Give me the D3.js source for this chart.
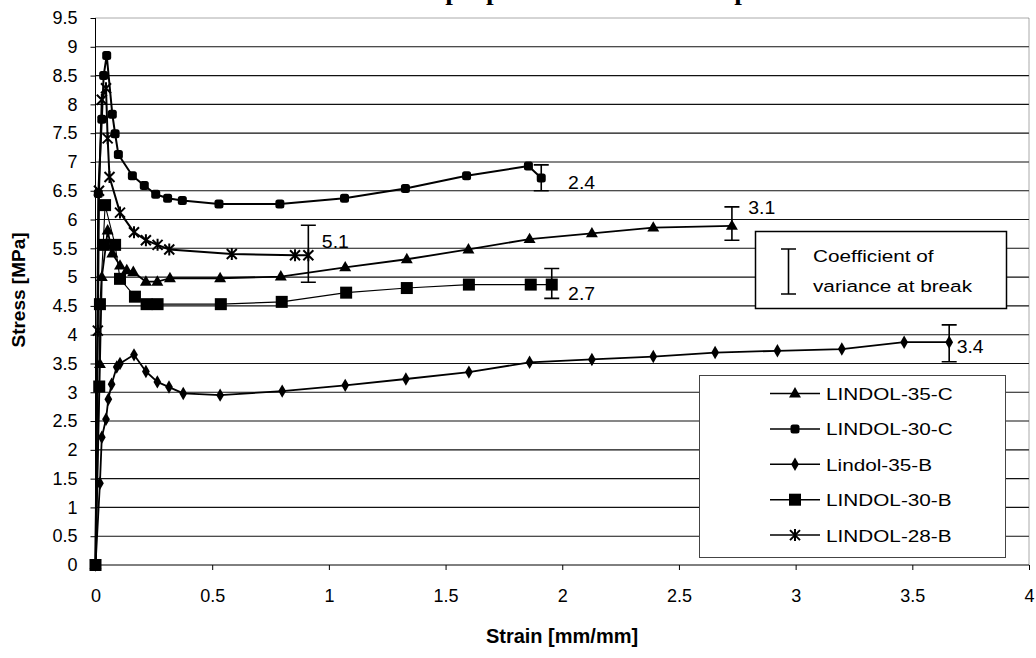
<!DOCTYPE html>
<html>
<head>
<meta charset="utf-8">
<script src="https://cdn.jsdelivr.net/npm/d3@7"></script>
<style>
  body { margin: 0; background: #fff; }
  svg { display: block; }
</style>
</head>
<body>
<svg id="chart" width="1036" height="658"></svg>
<script>
// values, [strain, stress]
var seriesNames = ['LINDOL-35-C', 'LINDOL-30-C', 'Lindol-35-B', 'LINDOL-30-B', 'LINDOL-28-B']

var lindol35C = [[0, 0], [0.019, 3.49], [0.027, 5.0], [0.045, 5.56], [0.052, 5.81], [0.072, 5.41],
  [0.105, 5.2], [0.134, 5.12], [0.162, 5.09], [0.216, 4.92], [0.265, 4.92], [0.319, 4.98],
  [0.534, 4.98], [0.794, 5.01], [1.07, 5.17], [1.334, 5.31], [1.598, 5.48], [1.86, 5.66],
  [2.127, 5.76], [2.39, 5.86], [2.727, 5.89]]

var lindol30C = [[0, 0], [0.012, 6.45], [0.027, 7.74], [0.035, 8.5], [0.048, 8.85], [0.072, 7.83],
  [0.084, 7.49], [0.098, 7.13], [0.158, 6.76], [0.209, 6.59], [0.258, 6.44], [0.309, 6.37],
  [0.372, 6.33], [0.529, 6.27], [0.79, 6.27], [1.067, 6.37], [1.328, 6.54], [1.59, 6.76],
  [1.855, 6.93], [1.91, 6.72]]

var lindol35B = [[0, 0], [0.019, 1.42], [0.027, 2.22], [0.045, 2.53], [0.055, 2.88], [0.069, 3.14],
  [0.091, 3.44], [0.105, 3.5], [0.165, 3.65], [0.216, 3.36], [0.265, 3.18], [0.315, 3.09],
  [0.376, 2.98], [0.534, 2.95], [0.8, 3.02], [1.07, 3.12], [1.33, 3.23], [1.6, 3.35],
  [1.86, 3.52], [2.127, 3.57], [2.39, 3.62], [2.655, 3.69], [2.922, 3.72], [3.198, 3.75],
  [3.465, 3.87], [3.658, 3.87]]

var lindol30B = [[0, 0], [0.016, 3.1], [0.019, 4.53], [0.033, 5.56], [0.041, 6.25], [0.084, 5.56],
  [0.105, 4.97], [0.169, 4.66], [0.219, 4.53], [0.266, 4.53], [0.537, 4.53], [0.798, 4.57],
  [1.074, 4.73], [1.334, 4.81], [1.6, 4.87], [1.865, 4.87], [1.955, 4.87]]

var lindol28B = [[0, 0], [0.01, 4.07], [0.015, 6.5], [0.027, 8.08], [0.045, 8.28], [0.052, 7.41],
  [0.06, 6.74], [0.105, 6.12], [0.165, 5.78], [0.216, 5.64], [0.266, 5.56], [0.316, 5.48],
  [0.584, 5.4], [0.855, 5.38], [0.912, 5.38]]

// coefficient of variance at break: strain, low, high, label, label strain, label stress
var breakX = [1.91, 0.912, 1.955, 2.727, 3.658]
var breakLow = [6.5, 4.91, 4.63, 5.64, 3.53]
var breakHigh = [6.95, 5.9, 5.15, 6.22, 4.17]
var breakText = ['2.4', '5.1', '2.7', '3.1', '3.4']
var breakTextX = [2.025, 0.97, 2.025, 2.797, 3.69]
var breakTextY = [6.66, 5.63, 4.72, 6.22, 3.8]

var xTicks = [0, 0.5, 1, 1.5, 2, 2.5, 3, 3.5, 4]
var yTicks = [0, 0.5, 1, 1.5, 2, 2.5, 3, 3.5, 4, 4.5, 5, 5.5, 6, 6.5, 7, 7.5, 8, 8.5, 9, 9.5]

var svg = d3.select('#chart')
var x = d3.scaleLinear().domain([0, 4]).range([95.5, 1029])
var y = d3.scaleLinear().domain([0, 9.5]).range([565, 18])
var sans = 'Arial, "Liberation Sans", sans-serif'

// text that is a bit wider than the font, like the scan
function stretchText(g, px, py, txt, size, sx, anchor, weight) {
  return g.append('text')
    .attr('transform', 'translate(' + px + ',' + py + ') scale(' + sx + ',1)')
    .attr('text-anchor', anchor || 'start')
    .style('font-family', sans)
    .style('font-size', size + 'px')
    .style('font-weight', weight || 'normal')
    .text(txt)
}

// title, mostly cut off at the top edge of the scan
svg.append('text')
  .attr('transform', 'translate(357,0) scale(1.25,1)')
  .style('font-family', '"Liberation Serif", "Times New Roman", serif')
  .style('font-size', '22px')
  .style('font-weight', 'bold')
  .text('Tensile properties of Lindol samples')

// gridlines
svg.append('g').selectAll('line')
  .data(yTicks.filter(function(d) { return d > 0 && d < 9.5 }))
  .enter().append('line')
  .attr('x1', x(0)).attr('x2', x(4))
  .attr('y1', function(d) { return y(d) }).attr('y2', function(d) { return y(d) })
  .attr('stroke', '#111').attr('stroke-width', 1.1)

// dotted frame top & right
svg.append('path')
  .attr('d', 'M' + x(0) + ',' + y(9.5) + 'H' + x(4) + 'V' + y(0))
  .attr('fill', 'none').attr('stroke', '#555').attr('stroke-dasharray', '1,1')

// axes
var xAxis = d3.axisBottom(x).tickValues(xTicks).tickSize(5).tickPadding(19)
  .tickFormat(function(d) { return String(d) })
var yAxis = d3.axisLeft(y).tickValues(yTicks).tickSize(5).tickPadding(13)
  .tickFormat(function(d) { return String(d) })

var gx = svg.append('g').attr('transform', 'translate(0,' + y(0) + ')').call(xAxis)
var gy = svg.append('g').attr('transform', 'translate(' + x(0) + ',0)').call(yAxis)
gx.select('.domain').attr('d', 'M' + x(0) + ',0H' + x(4)).attr('stroke', '#000')
gy.select('.domain').attr('d', 'M0,' + y(0) + 'V' + y(9.5)).attr('stroke', '#000')
;[gx, gy].forEach(function(g) {
  g.selectAll('text').style('font-family', sans).style('font-size', '18px').attr('fill', '#000')
  g.selectAll('.tick line').attr('stroke', '#000')
})

// axis titles
svg.append('text')
  .attr('x', 562).attr('y', 643)
  .attr('text-anchor', 'middle')
  .style('font-family', sans).style('font-size', '20px').style('font-weight', 'bold')
  .text('Strain [mm/mm]')
svg.append('text')
  .attr('transform', 'translate(25,290) rotate(-90)')
  .attr('text-anchor', 'middle')
  .style('font-family', sans).style('font-size', '19px').style('font-weight', 'bold')
  .text('Stress [MPa]')

// markers
function marker(g, kind, cx, cy) {
  if (kind === 'triangle') {
    g.append('path').attr('d', d3.symbol(d3.symbolTriangle, 62)())
      .attr('transform', 'translate(' + cx + ',' + (cy + 0.5) + ')').attr('fill', '#000')
  } else if (kind === 'round') {
    g.append('rect').attr('x', cx - 4.5).attr('y', cy - 4.5).attr('width', 9).attr('height', 9)
      .attr('rx', 2.5).attr('fill', '#000')
  } else if (kind === 'diamond') {
    g.append('path').attr('d', d3.symbol(d3.symbolDiamond, 52)())
      .attr('transform', 'translate(' + cx + ',' + cy + ')').attr('fill', '#000')
  } else if (kind === 'square') {
    g.append('rect').attr('x', cx - 6).attr('y', cy - 6).attr('width', 12).attr('height', 12)
      .attr('fill', '#000')
  } else {
    g.append('path')
      .attr('d', 'M' + (cx - 5) + ',' + (cy - 5) + 'L' + (cx + 5) + ',' + (cy + 5) +
        'M' + (cx - 5) + ',' + (cy + 5) + 'L' + (cx + 5) + ',' + (cy - 5) +
        'M' + cx + ',' + (cy - 6) + 'V' + (cy + 6))
      .attr('stroke', '#000').attr('stroke-width', 2).attr('fill', 'none')
  }
}

var seriesData = [lindol35C, lindol30C, lindol35B, lindol30B, lindol28B]
var markerKinds = ['triangle', 'round', 'diamond', 'square', 'star']
var lineWidths = [1.8, 2, 1.8, 1.1, 2]

var line = d3.line()
  .x(function(d) { return x(d[0]) })
  .y(function(d) { return y(d[1]) })

var plot = svg.append('g')
seriesData.forEach(function(data, i) {
  plot.append('path')
    .attr('d', line(data))
    .attr('fill', 'none')
    .attr('stroke', '#000')
    .attr('stroke-width', lineWidths[i])
    .attr('stroke-linejoin', 'round')
})
seriesData.forEach(function(data, i) {
  var mg = plot.append('g')
  data.forEach(function(d) { marker(mg, markerKinds[i], x(d[0]), y(d[1])) })
})

// error bars + labels
var eb = svg.append('g')
breakX.forEach(function(bx, i) {
  var px = x(bx)
  eb.append('path')
    .attr('d', 'M' + (px - 7.5) + ',' + y(breakHigh[i]) + 'H' + (px + 7.5) +
      'M' + px + ',' + y(breakHigh[i]) + 'V' + y(breakLow[i]) +
      'M' + (px - 7.5) + ',' + y(breakLow[i]) + 'H' + (px + 7.5))
    .attr('stroke', '#000').attr('stroke-width', 1.6).attr('fill', 'none')
  stretchText(eb, x(breakTextX[i]), y(breakTextY[i]) + 7, breakText[i], 18, 1.08)
})

// box explaining the error bars
var cv = svg.append('g')
cv.append('rect').attr('x', 755.5).attr('y', 231.5).attr('width', 251).attr('height', 77)
  .attr('fill', '#fff').attr('stroke', '#000').attr('stroke-width', 1.5)
cv.append('path')
  .attr('d', 'M781,249H796M788.5,249V294M781,294H796')
  .attr('stroke', '#000').attr('stroke-width', 1.6).attr('fill', 'none')
stretchText(cv, 813, 262, 'Coefficient of', 17, 1.22)
stretchText(cv, 813, 292, 'variance at break', 17, 1.22)

// series legend
var lg = svg.append('g')
lg.append('rect').attr('x', 699.5).attr('y', 375.5).attr('width', 306).attr('height', 182)
  .attr('fill', '#fff').attr('stroke', '#444').attr('stroke-width', 1)
seriesNames.forEach(function(name, i) {
  var ly = 393.5 + i * 35.4
  lg.append('line').attr('x1', 770).attr('x2', 820).attr('y1', ly).attr('y2', ly)
    .attr('stroke', '#000').attr('stroke-width', 1.5)
  marker(lg, markerKinds[i], 795, ly)
  stretchText(lg, 826, ly + 6.5, name, 17, 1.22)
})
</script>
</body>
</html>
